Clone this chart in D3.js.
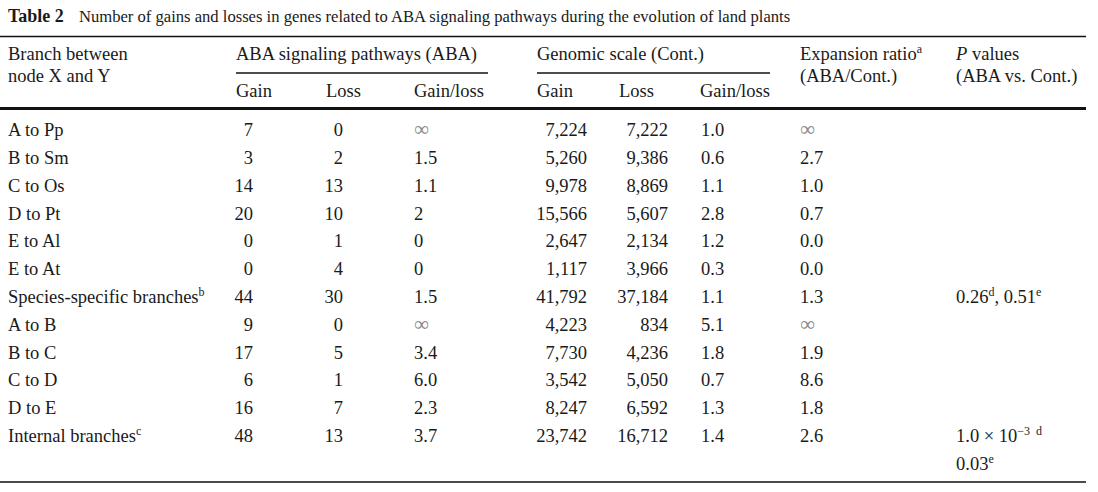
<!DOCTYPE html>
<html>
<head>
<meta charset="utf-8">
<script src="https://cdn.jsdelivr.net/npm/d3@7"></script>
<style>
  body { margin: 0; background: #fff; }
  text { font-family: "Liberation Serif", "Times New Roman", serif; font-size: 18.5px; fill: #1a1a1a; }
</style>
</head>
<body>
<div id="chart-area"></div>
<script>
// table values
const branches = ['A to Pp', 'B to Sm', 'C to Os', 'D to Pt', 'E to Al', 'E to At',
  'Species-specific branches^{b}', 'A to B', 'B to C', 'C to D', 'D to E', 'Internal branches^{c}']
const abaGain = ['7', '3', '14', '20', '0', '0', '44', '9', '17', '6', '16', '48']
const abaLoss = ['0', '2', '13', '10', '1', '4', '30', '0', '5', '1', '7', '13']
const abaRatio = ['∞', '1.5', '1.1', '2', '0', '0', '1.5', '∞', '3.4', '6.0', '2.3', '3.7']
const contGain = ['7,224', '5,260', '9,978', '15,566', '2,647', '1,117', '41,792', '4,223', '7,730', '3,542', '8,247', '23,742']
const contLoss = ['7,222', '9,386', '8,869', '5,607', '2,134', '3,966', '37,184', '834', '4,236', '5,050', '6,592', '16,712']
const contRatio = ['1.0', '0.6', '1.1', '2.8', '1.2', '0.3', '1.1', '5.1', '1.8', '0.7', '1.3', '1.4']
const expansion = ['∞', '2.7', '1.0', '0.7', '0.0', '0.0', '1.3', '∞', '1.9', '8.6', '1.8', '2.6']
const pValues = [[], [], [], [], [], [], ['0.26^{d}, 0.51^{e}'], [], [], [], [], ['1.0 × 10^{−3  d}', '0.03^{e}']]

const WIDTH = 1098
const HEIGHT = 492
const BASE = 6.5 // centre line to baseline

const svg = d3.select('#chart-area')
  .append('svg')
  .attr('width', WIDTH)
  .attr('height', HEIGHT)

// writes "text^{sup}" strings as tspans
function rich(sel, str) {
  const parts = str.split(/\^\{([^}]*)\}/)
  let up = false
  parts.forEach((p, i) => {
    if (p === '') return
    const sup = i % 2 === 1
    const ts = sel.append('tspan').text(p)
    if (sup) {
      ts.attr('dy', -7).style('font-size', '12px').style('white-space', 'pre')
      up = true
    } else if (up) {
      ts.attr('dy', 7)
      up = false
    }
  })
}

function cell(x, y, str, anchor) {
  const t = svg.append('text')
    .attr('x', x)
    .attr('y', y + BASE)
    .attr('text-anchor', anchor || 'start')
  if (str === '∞') {
    t.style('fill', '#8a8a8a').style('font-size', '21px').text(str)
  } else {
    rich(t, str)
  }
  return t
}

// title
const title = svg.append('text').attr('x', 8).attr('y', 22).style('font-size', '16.6px')
title.append('tspan').style('font-weight', 'bold').style('font-size', '18px').text('Table 2')
title.append('tspan').attr('x', 79)
  .text('Number of gains and losses in genes related to ABA signaling pathways during the evolution of land plants')

// rules
const rules = [
  { x1: 0, x2: 1086, y: 36.5, w: 1.3 },
  { x1: 236, x2: 488, y: 73, w: 1.3 },
  { x1: 537, x2: 770, y: 73, w: 1.3 },
  { x1: 0, x2: 1086, y: 108.5, w: 3 },
  { x1: 0, x2: 1086, y: 482, w: 1.6 }
]
svg.selectAll('line.rule')
  .data(rules)
  .enter().append('line')
  .attr('class', 'rule')
  .attr('x1', d => d.x1)
  .attr('x2', d => d.x2)
  .attr('y1', d => d.y)
  .attr('y2', d => d.y)
  .attr('stroke', '#111')
  .attr('stroke-width', d => d.w)

// header
cell(8, 53, 'Branch between')
cell(8, 75, 'node X and Y')
cell(236, 53, 'ABA signaling pathways (ABA)')
cell(537, 53, 'Genomic scale (Cont.)')
cell(800, 53, 'Expansion ratio^{a}')
cell(800, 75, '(ABA/Cont.)')
const ph = svg.append('text').attr('x', 956).attr('y', 53 + BASE)
ph.append('tspan').style('font-style', 'italic').text('P')
ph.append('tspan').text(' values')
cell(956, 75, '(ABA vs. Cont.)')
const sub = [[236, 'Gain'], [326, 'Loss'], [414, 'Gain/loss'], [537, 'Gain'], [619, 'Loss'], [700, 'Gain/loss']]
sub.forEach(s => cell(s[0], 90, s[1]))

// rows
const y = d3.scaleBand()
  .domain(d3.range(13))
  .range([116, 477])

const rowY = i => y(i) + y.bandwidth() / 2

const columns = [
  { vals: branches, x: 8, anchor: 'start' },
  { vals: abaGain, x: 253, anchor: 'end' },
  { vals: abaLoss, x: 343, anchor: 'end' },
  { vals: abaRatio, x: 414, anchor: 'start' },
  { vals: contGain, x: 587, anchor: 'end' },
  { vals: contLoss, x: 668, anchor: 'end' },
  { vals: contRatio, x: 701, anchor: 'start' },
  { vals: expansion, x: 800, anchor: 'start' }
]

columns.forEach(c => {
  c.vals.forEach((v, i) => cell(c.x, rowY(i), v, c.anchor))
})

pValues.forEach((lines, i) => {
  lines.forEach((l, k) => cell(956, rowY(i + k), l))
})
</script>
</body>
</html>
